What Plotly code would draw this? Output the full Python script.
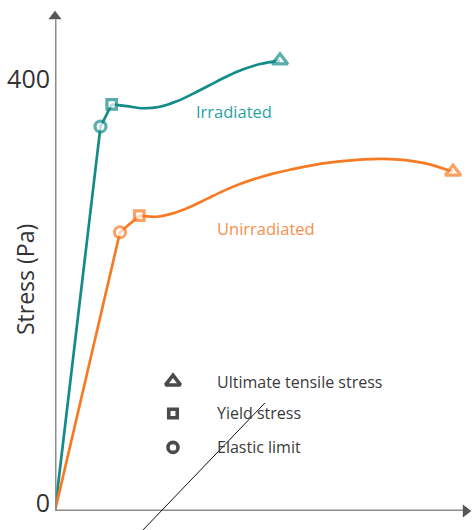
import plotly.graph_objects as go

# Stress-strain curves (strain in arbitrary units, stress in Pa)
strain_irr = [0, 4.55, 5.67, 7.17, 8.83, 10.5, 12.17, 13.83, 15.5, 17.17, 18.83, 20.5, 22.5]
stress_irr = [0, 362.7, 383.7, 382, 380, 381.4, 386.5, 393.8, 401.9, 410, 416.7, 421.7, 425]

strain_unirr = [0, 6.5, 8.43, 10.17, 11.8, 13.5, 15.2, 16.8, 18.5, 20.2, 21.8, 23.5, 26.8, 30.2, 33.5, 36.8, 39.8]
stress_unirr = [0, 263, 278.6, 277.6, 280.8, 286.8, 294.5, 301.8, 308.5, 314, 318.3, 322, 328, 331.3, 332, 328.5, 320]

# index of elastic limit and yield stress in each series (UTS is the last point)
elastic_idx, yield_idx = 1, 2

y_tick_vals = [0, 400]
y_tick_text = ["0", "400"]

legend_labels = ["Ultimate tensile stress", "Yield stress", "Elastic limit"]
legend_symbols = ["triangle-up", "square", "circle"]
legend_x = 11.8
legend_y = [122, 92, 60]

TEAL = "#138c89"
ORANGE = "#f77b24"
FONT = "Open Sans"

fig = go.Figure()


def add_curve(xs, ys, color):
    # straight elastic rise up to the yield point
    fig.add_trace(go.Scatter(
        x=xs[:yield_idx + 1], y=ys[:yield_idx + 1], mode="lines",
        line=dict(color=color, width=2.7), showlegend=False, hoverinfo="skip"))
    # smooth hardening part after yield
    fig.add_trace(go.Scatter(
        x=xs[yield_idx:], y=ys[yield_idx:], mode="lines",
        line=dict(color=color, width=2.7, shape="spline", smoothing=1.0),
        showlegend=False, hoverinfo="skip"))
    # characteristic points: hollow markers with a thick outline
    pts = [elastic_idx, yield_idx, len(xs) - 1]
    syms = ["circle", "square", "triangle-up"]
    sizes = [11, 9.5, 13.5]
    fig.add_trace(go.Scatter(
        x=[xs[i] for i in pts], y=[ys[i] for i in pts], mode="markers",
        marker=dict(symbol=syms, size=sizes, color="white",
                    line=dict(color=color, width=3.2)),
        cliponaxis=False, showlegend=False, hoverinfo="skip"))


add_curve(strain_irr, stress_irr, TEAL)
add_curve(strain_unirr, stress_unirr, ORANGE)

# key of marker meanings
fig.add_trace(go.Scatter(
    x=[legend_x] * 3, y=legend_y, mode="markers",
    marker=dict(symbol=legend_symbols, size=[13, 8.5, 10], color="white",
                line=dict(color="#000000", width=3.6)),
    showlegend=False, hoverinfo="skip"))

annotations = []
for lbl, yy in zip(legend_labels, legend_y):
    annotations.append(dict(x=legend_x + 4.2, y=yy, xref="x", yref="y",
                            text=lbl, showarrow=False, xanchor="left",
                            font=dict(family=FONT, size=16, color="#3a3a3a")))

annotations.append(dict(x=17.9, y=377, xref="x", yref="y", text="Irradiated",
                        showarrow=False, font=dict(family=FONT, size=16.5, color="#2aa3a1")))
annotations.append(dict(x=21.1, y=267, xref="x", yref="y", text="Unirradiated",
                        showarrow=False, font=dict(family=FONT, size=16.5, color="#f7904a")))
annotations.append(dict(x=-30 / 418, y=(511 - 280) / 506, xref="paper", yref="paper",
                        xanchor="center", yanchor="middle",
                        text="Stress (Pa)", textangle=-90, showarrow=False,
                        font=dict(family=FONT, size=23, color="#333333")))

# axis arrows
fig.add_trace(go.Scatter(
    x=[0, 41.05], y=[466.5, 0], mode="markers",
    marker=dict(symbol=["triangle-up", "triangle-right"], size=[13, 13], color="#111111"),
    cliponaxis=False, showlegend=False, hoverinfo="skip"))

shapes = [
    dict(type="line", xref="x", yref="y", x0=0, y0=0, x1=0, y1=464,
         line=dict(color="#8c8c8c", width=3)),
    dict(type="line", xref="x", yref="y", x0=0, y0=0, x1=40.8, y1=0,
         line=dict(color="#8c8c8c", width=3)),
    dict(type="line", xref="paper", yref="paper", x0=0.2105, y0=-0.0375,
         x1=0.502, y1=0.2134, line=dict(color="#111111", width=1)),
]

fig.update_layout(
    width=473, height=530,
    margin=dict(l=55, r=0, t=5, b=19),
    paper_bgcolor="white", plot_bgcolor="white",
    showlegend=False,
    shapes=shapes,
    annotations=annotations,
    xaxis=dict(range=[0, 41.8], showgrid=False, zeroline=False, showline=False,
               showticklabels=False, ticks=""),
    yaxis=dict(range=[0, 477.4], showgrid=False, zeroline=False, showline=False,
               tickvals=y_tick_vals, ticktext=y_tick_text, ticks="",
               tickfont=dict(family=FONT, size=25, color="#333333"),
               ticklabelshift=-8, ticklabelstandoff=4),
)

fig.write_html("out.html")
